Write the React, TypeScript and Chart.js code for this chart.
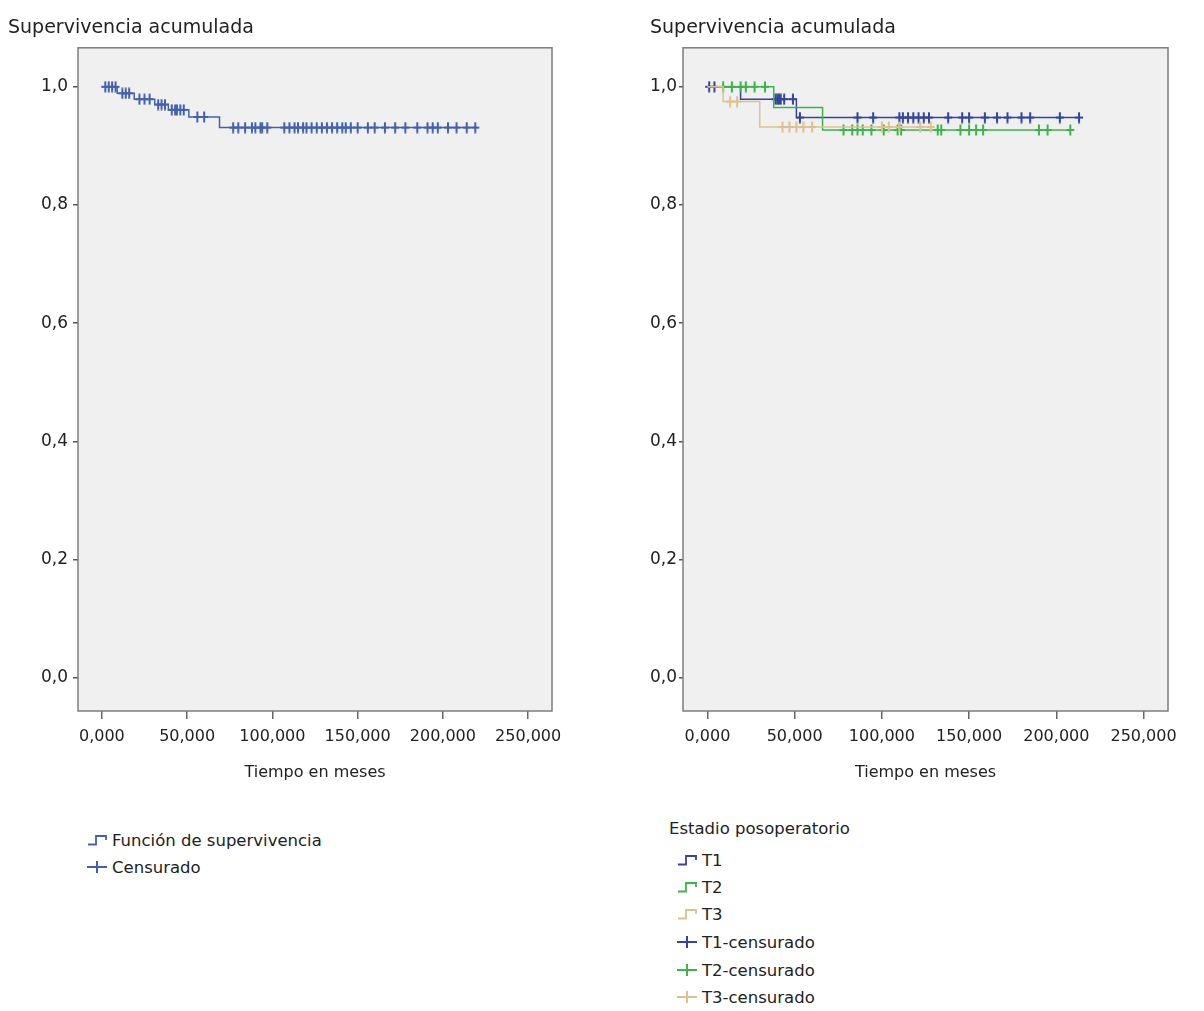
import React, { useEffect, useRef } from "react";
import { Chart, registerables } from "chart.js";
Chart.register(...registerables);

// ---------- data ----------
const TITLE_TEXT = "Supervivencia acumulada";
const X_TITLE = "Tiempo en meses";
const X_TICKS = [0, 50, 100, 150, 200, 250];
const X_TICK_LABELS = ["0,000", "50,000", "100,000", "150,000", "200,000", "250,000"];
const Y_TICKS = [0, 0.2, 0.4, 0.6, 0.8, 1.0];
const Y_TICK_LABELS = ["0,0", "0,2", "0,4", "0,6", "0,8", "1,0"];

// All patients
const ALL_EVENT_TIMES = [9, 19, 31, 39, 51, 69];
const ALL_EVENT_SURV = [0.989, 0.979, 0.97, 0.961, 0.949, 0.931];
const ALL_CENSORED = [
  2, 4, 6, 8, 12, 14, 16, 22, 25, 28, 33, 35, 37, 41, 43, 44, 46, 48, 56, 60,
  77, 80, 84, 88, 90, 93, 94, 97, 107, 110, 113, 115, 118, 120, 123, 126, 129,
  132, 135, 138, 141, 143, 146, 150, 156, 160, 166, 172, 178, 185, 191, 194,
  197, 203, 208, 214, 219,
];

// Estadio posoperatorio
const T1_EVENT_TIMES = [19, 51];
const T1_EVENT_SURV = [0.979, 0.948];
const T1_CENSORED = [
  1, 4, 39, 40, 41, 42, 44, 49, 53, 86, 95, 110, 112, 115, 118, 121, 124, 127,
  138, 146, 150, 159, 166, 172, 180, 185, 202, 213,
];
const T2_EVENT_TIMES = [38, 66];
const T2_EVENT_SURV = [0.965, 0.927];
const T2_CENSORED = [
  9, 14, 19, 22, 27, 33, 78, 83, 86, 89, 94, 101, 109, 111, 132, 134, 145, 150,
  154, 158, 190, 195, 208,
];
const T3_EVENT_TIMES = [9, 30];
const T3_EVENT_SURV = [0.975, 0.932];
const T3_CENSORED = [13, 17, 43, 47, 51, 55, 60, 100, 104, 110, 122, 128];

const LEGEND_LEFT = ["Función de supervivencia", "Censurado"];
const LEGEND_RIGHT_TITLE = "Estadio posoperatorio";
const LEGEND_RIGHT = ["T1", "T2", "T3", "T1-censurado", "T2-censurado", "T3-censurado"];

// ---------- styles ----------
const FONT = "'DejaVu Sans', Verdana, sans-serif";
const C_ALL = "#4360ae";
const C_T1 = "#33449c";
const C_T2 = "#3cb44b";
const C_T3 = "#dcc28e";
const TEXT = "#222222";

function survAt(times: number[], surv: number[], t: number) {
  let s = 1;
  for (let i = 0; i < times.length; i++) if (times[i] <= t) s = surv[i];
  return s;
}
function kmPoints(times: number[], surv: number[], censored: number[]) {
  const pts = [{ x: 0, y: 1 }];
  times.forEach((t, i) => pts.push({ x: t, y: surv[i] }));
  const last = Math.max(...censored, ...times);
  pts.push({ x: last, y: survAt(times, surv, last) });
  return pts;
}
function censorPoints(times: number[], surv: number[], censored: number[]) {
  return censored.map((t) => ({ x: t, y: survAt(times, surv, t) }));
}

// plus-shaped marker, taller than wide
function plusMarker(color: string) {
  const c = document.createElement("canvas");
  c.width = 10;
  c.height = 12;
  const ctx = c.getContext("2d") as CanvasRenderingContext2D;
  ctx.strokeStyle = color;
  ctx.lineWidth = 2;
  ctx.beginPath();
  ctx.moveTo(1, 6);
  ctx.lineTo(9, 6);
  ctx.moveTo(5, 0.5);
  ctx.lineTo(5, 11.5);
  ctx.stroke();
  return c;
}

const bgPlugin = {
  id: "plotBg",
  beforeDraw(chart: any) {
    const { ctx, chartArea: a } = chart;
    ctx.save();
    ctx.fillStyle = "#f0f0f0";
    ctx.fillRect(a.left, a.top, a.right - a.left, a.bottom - a.top);
    ctx.restore();
  },
  afterDatasetsDraw(chart: any) {
    const { ctx, chartArea: a } = chart;
    ctx.save();
    ctx.strokeStyle = "#7d7d7d";
    ctx.lineWidth = 1.5;
    ctx.strokeRect(a.left, a.top, a.right - a.left, a.bottom - a.top);
    ctx.restore();
  },
};

function makeOptions(padLeft: number, padRight: number, yWidth: number, yTickLen: number, yPad: number) {
  return {
    animation: false as const,
    responsive: false,
    events: [],
    layout: { padding: { left: padLeft, right: padRight, top: 0, bottom: 0 } },
    plugins: {
      legend: { display: false },
      tooltip: { enabled: false },
      title: {
        display: true,
        text: TITLE_TEXT,
        align: "start" as const,
        color: TEXT,
        font: { family: FONT, size: 19, weight: "normal" as const },
        padding: { top: 9, bottom: 8 },
      },
    },
    scales: {
      x: {
        type: "linear" as const,
        min: -14,
        max: 264,
        afterBuildTicks: (s: any) => {
          s.ticks = X_TICKS.map((v) => ({ value: v }));
        },
        afterFit: (s: any) => {
          s.height = 87;
        },
        ticks: {
          autoSkip: false,
          maxRotation: 0,
          padding: 8,
          color: TEXT,
          font: { family: FONT, size: 16 },
          callback: (v: any) => X_TICK_LABELS[X_TICKS.indexOf(v)] ?? "",
        },
        grid: { drawOnChartArea: false, drawTicks: true, tickLength: 8, tickColor: "#666", lineWidth: 1.5 },
        border: { display: false },
        title: {
          display: true,
          text: X_TITLE,
          color: TEXT,
          font: { family: FONT, size: 16 },
          padding: { top: 0, bottom: 16 },
        },
      },
      y: {
        type: "linear" as const,
        min: -0.056,
        max: 1.066,
        afterBuildTicks: (s: any) => {
          s.ticks = Y_TICKS.map((v) => ({ value: v }));
        },
        afterFit: (s: any) => {
          s.width = yWidth;
        },
        ticks: {
          autoSkip: false,
          padding: yPad,
          color: TEXT,
          font: { family: FONT, size: 17 },
          callback: (v: any) => {
            const i = Y_TICKS.findIndex((t) => Math.abs(t - v) < 1e-6);
            return i >= 0 ? Y_TICK_LABELS[i] : "";
          },
        },
        grid: { drawOnChartArea: false, drawTicks: true, tickLength: yTickLen, tickColor: "#555", lineWidth: 1.5 },
        border: { display: false },
      },
    },
  };
}

function lineDs(pts: any[], color: string) {
  return {
    data: pts,
    showLine: true,
    stepped: "before" as const,
    borderColor: color,
    borderWidth: 1.5,
    pointRadius: 0,
    fill: false,
  };
}
function censDs(pts: any[], color: string) {
  return {
    data: pts,
    showLine: false,
    pointStyle: plusMarker(color),
    pointRadius: 5,
    borderColor: color,
    backgroundColor: color,
  };
}

function StepIcon({ color }: { color: string }) {
  return (
    <svg width="24" height="14" style={{ display: "block" }}>
      <path d="M2 11.5 H10 V3 H20 V7" fill="none" stroke={color} strokeWidth="1.8" />
    </svg>
  );
}
function CrossIcon({ color }: { color: string }) {
  return (
    <svg width="24" height="14" style={{ display: "block" }}>
      <path d="M1 7 H21 M11 1 V13" fill="none" stroke={color} strokeWidth="2" />
    </svg>
  );
}

function LegendRow({ x, y, icon, text }: { x: number; y: number; icon: any; text: string }) {
  return (
    <div
      style={{
        position: "absolute",
        left: x,
        top: y - 11,
        height: 22,
        display: "flex",
        alignItems: "center",
        gap: 2,
        fontFamily: FONT,
        fontSize: 16.5,
        color: TEXT,
        whiteSpace: "nowrap",
      }}
    >
      {icon}
      <span>{text}</span>
    </div>
  );
}

export default function App() {
  const leftRef = useRef<HTMLCanvasElement | null>(null);
  const rightRef = useRef<HTMLCanvasElement | null>(null);

  useEffect(() => {
    const left = new Chart(leftRef.current as HTMLCanvasElement, {
      type: "line",
      data: {
        datasets: [
          lineDs(kmPoints(ALL_EVENT_TIMES, ALL_EVENT_SURV, ALL_CENSORED), C_ALL),
          censDs(censorPoints(ALL_EVENT_TIMES, ALL_EVENT_SURV, ALL_CENSORED), C_ALL),
        ] as any,
      },
      options: makeOptions(0, 48, 70, 5, 5) as any,
      plugins: [bgPlugin],
    });
    const right = new Chart(rightRef.current as HTMLCanvasElement, {
      type: "line",
      data: {
        datasets: [
          lineDs(kmPoints(T3_EVENT_TIMES, T3_EVENT_SURV, T3_CENSORED), C_T3),
          censDs(censorPoints(T3_EVENT_TIMES, T3_EVENT_SURV, T3_CENSORED), C_T3),
          lineDs(kmPoints(T2_EVENT_TIMES, T2_EVENT_SURV, T2_CENSORED), C_T2),
          censDs(censorPoints(T2_EVENT_TIMES, T2_EVENT_SURV, T2_CENSORED), C_T2),
          lineDs(kmPoints(T1_EVENT_TIMES, T1_EVENT_SURV, T1_CENSORED), C_T1),
          censDs(censorPoints(T1_EVENT_TIMES, T1_EVENT_SURV, T1_CENSORED), C_T1),
        ] as any,
      },
      options: makeOptions(42, 28, 33, 4, 2) as any,
      plugins: [bgPlugin],
    });
    return () => {
      left.destroy();
      right.destroy();
    };
  }, []);

  const rightColors = [C_T1, C_T2, C_T3];
  const rightRowsY = [852, 879, 906, 934, 962, 989];

  return (
    <div style={{ position: "relative", width: 1188, height: 1000, background: "#fff" }}>
      <canvas ref={leftRef} width={592} height={790} style={{ position: "absolute", left: 0, top: 0, width: 592, height: 790 }} />
      <canvas ref={rightRef} width={588} height={790} style={{ position: "absolute", left: 600, top: 0, width: 588, height: 790 }} />

      <LegendRow x={78} y={832} icon={<StepIcon color={C_ALL} />} text={LEGEND_LEFT[0]} />
      <LegendRow x={78} y={859} icon={<CrossIcon color={C_ALL} />} text={LEGEND_LEFT[1]} />

      <div
        style={{
          position: "absolute",
          left: 661,
          top: 821 - 11,
          height: 22,
          lineHeight: "22px",
          fontFamily: FONT,
          fontSize: 16.5,
          color: TEXT,
          whiteSpace: "nowrap",
        }}
      >
        {LEGEND_RIGHT_TITLE}
      </div>
      {LEGEND_RIGHT.map((label, i) => (
        <LegendRow
          key={label}
          x={668}
          y={rightRowsY[i]}
          icon={i < 3 ? <StepIcon color={rightColors[i]} /> : <CrossIcon color={rightColors[i - 3]} />}
          text={label}
        />
      ))}
    </div>
  );
}
